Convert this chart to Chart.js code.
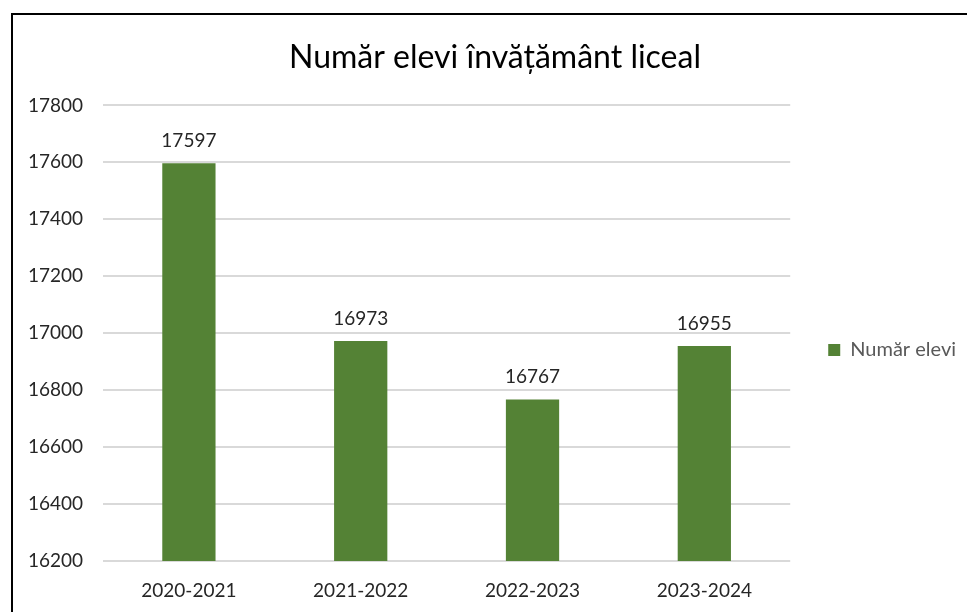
<!DOCTYPE html>
<html>
<head>
<meta charset="utf-8">
<script src="https://cdn.jsdelivr.net/npm/chart.js@4"></script>
<style>
  html, body { margin: 0; padding: 0; background: #fff; }
  #wrap { position: relative; width: 967px; height: 612px; }
  #chart { display: block; }
  #frame { position: absolute; left: 11px; top: 13px; right: 0; bottom: 0;
           border-top: 2px solid #000; border-left: 2px solid #000; pointer-events: none; }
</style>
</head>
<body>
<div id="wrap">
  <canvas id="chart" width="967" height="612"></canvas>
  <div id="frame"></div>
</div>
<script>
  const categories = ['2020-2021', '2021-2022', '2022-2023', '2023-2024'];
  const elevi = [17597, 16973, 16767, 16955];
  const seriesName = 'Număr elevi';
  const chartTitle = 'Număr elevi învățământ liceal';

  const valueLabels = {
    id: 'valueLabels',
    afterDatasetsDraw(chart) {
      const ctx = chart.ctx;
      const meta = chart.getDatasetMeta(0);
      ctx.save();
      ctx.font = '19px Lato';
      ctx.fillStyle = '#262626';
      ctx.textAlign = 'center';
      ctx.textBaseline = 'bottom';
      meta.data.forEach((bar, i) => {
        ctx.fillText(String(elevi[i]), bar.x, bar.y - 13);
      });
      ctx.restore();
    }
  };

  // push the legend down a bit, excel puts it lower than chart.js does
  const legendShift = {
    id: 'legendShift',
    afterLayout(chart) {
      chart.legend.top += 34;
      chart.legend.bottom += 34;
    }
  };

  new Chart(document.getElementById('chart'), {
    type: 'bar',
    data: {
      labels: categories,
      datasets: [{
        label: seriesName,
        data: elevi,
        backgroundColor: '#548235',
        borderWidth: 0,
        categoryPercentage: 1,
        barPercentage: 0.31
      }]
    },
    options: {
      responsive: false,
      animation: false,
      layout: { padding: { left: 24, top: 20, right: 1, bottom: 0 } },
      plugins: {
        title: {
          display: true,
          text: chartTitle,
          color: '#000',
          font: { family: 'Lato', size: 32, weight: 'normal' },
          padding: { top: 18, bottom: 29 }
        },
        legend: {
          position: 'right',
          labels: {
            color: '#595959',
            font: { family: 'Lato', size: 20 },
            boxWidth: 12,
            boxHeight: 12,
            padding: 38
          }
        },
        tooltip: { enabled: false }
      },
      scales: {
        x: {
          afterFit: s => { s.height = 51; },
          grid: { display: false, drawTicks: false },
          border: { display: false },
          ticks: { color: '#262626', font: { family: 'Lato', size: 19 }, padding: 18 }
        },
        y: {
          min: 16200,
          max: 17800,
          afterFit: s => { s.width = 79; },
          grid: { color: '#d9d9d9', lineWidth: 2, drawTicks: false },
          border: { display: false },
          ticks: {
            stepSize: 200,
            color: '#262626',
            font: { family: 'Lato', size: 19 },
            padding: 20,
            callback: v => String(v)
          }
        }
      }
    },
    plugins: [valueLabels, legendShift]
  });
</script>
</body>
</html>
